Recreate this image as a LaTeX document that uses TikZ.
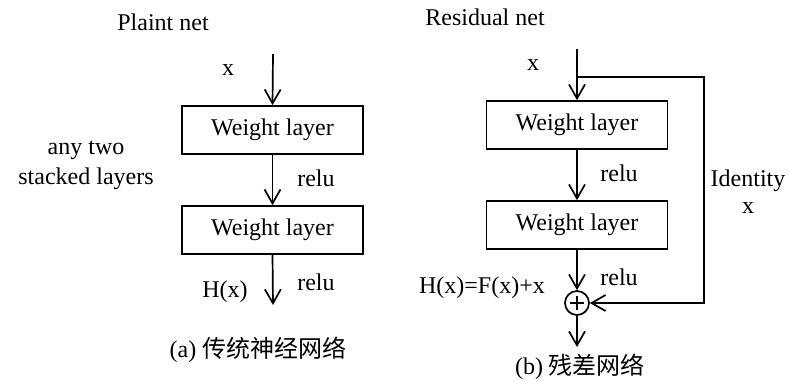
\documentclass[tikz,border=0pt]{standalone}
\usepackage{fontspec}
\setmainfont{Liberation Serif}
\newfontfamily\cjk{Noto Sans CJK SC}
\usetikzlibrary{arrows.meta}
\begin{document}
\begin{tikzpicture}[x=1pt,y=-1pt,
  every node/.style={font=\fontsize{24}{26}\selectfont, inner sep=0pt},
  layerbox/.style={draw, line width=1.7pt, minimum width=181pt, minimum height=48pt},
  flow/.style={line width=1.7pt, -{Straight Barb[length=14pt,width=16pt,line width=1.7pt]}},
  wire/.style={line width=1.7pt},
  lbl/.style={anchor=center}]
\useasboundingbox (0,0) rectangle (789,384);

% ---- plain network ----
\node[lbl] (ptitle) at (163,22) {Plaint net};
\coordinate (pin) at (273,54);
\node[lbl] (px) at (228,70) {x};
\node[layerbox] (pw1) at (272.5,130) {Weight layer};
\node[layerbox] (pw2) at (272.5,230) {Weight layer};
\coordinate (pout) at (273,305);
\node[lbl] (prelu1) at (316,178) {relu};
\node[lbl] (prelu2) at (316,282) {relu};
\node[lbl] (phx) at (225,292) {H(x)};
\node[lbl, align=center] (pnote) at (86,165) {any two\\[4pt]stacked layers};
\node[lbl] (pcap) at (258,350) {(a) {\cjk 传统神经网络}};

\draw[flow] (pin) -- (pw1.north);
\draw[flow] (pw1.south) -- (pw2.north);
\draw[flow] (pw2.south) -- (pout);

% ---- residual network ----
\node[lbl] (rtitle) at (485,17) {Residual net};
\coordinate (rin) at (577,49);
\coordinate (rsplit) at (577,77);
\node[lbl] (rx) at (533,65) {x};
\node[layerbox] (rw1) at (577,125) {Weight layer};
\node[layerbox] (rw2) at (577,225) {Weight layer};
\node[draw, circle, line width=1.7pt, minimum size=24pt] (sum) at (577,303) {};
\draw[line width=1.7pt] ([xshift=-7pt]sum.center) -- ([xshift=7pt]sum.center)
                        ([yshift=-7pt]sum.center) -- ([yshift=7pt]sum.center);
\coordinate (rout) at (577,347);
\coordinate (rc1) at (704,77);
\coordinate (rc2) at (704,303);
\node[lbl] (rrelu1) at (619,173) {relu};
\node[lbl] (rrelu2) at (619,277) {relu};
\node[lbl] (rhx) at (482,288) {H(x)=F(x)+x};
\node[lbl, align=center] (rid) at (748,192) {Identity\\[1pt]x};
\node[lbl] (rcap) at (580,367) {(b) {\cjk 残差网络}};

\draw[wire] (rin) -- (rsplit);
\draw[flow] (rsplit) -- (rw1.north);
\draw[flow] (rw1.south) -- (rw2.north);
\draw[flow] (rw2.south) -- (sum.north);
\draw[flow] (rsplit) -- (rc1) -- (rc2) -- (sum.east);
\draw[flow] (sum.south) -- (rout);
\end{tikzpicture}
\end{document}
